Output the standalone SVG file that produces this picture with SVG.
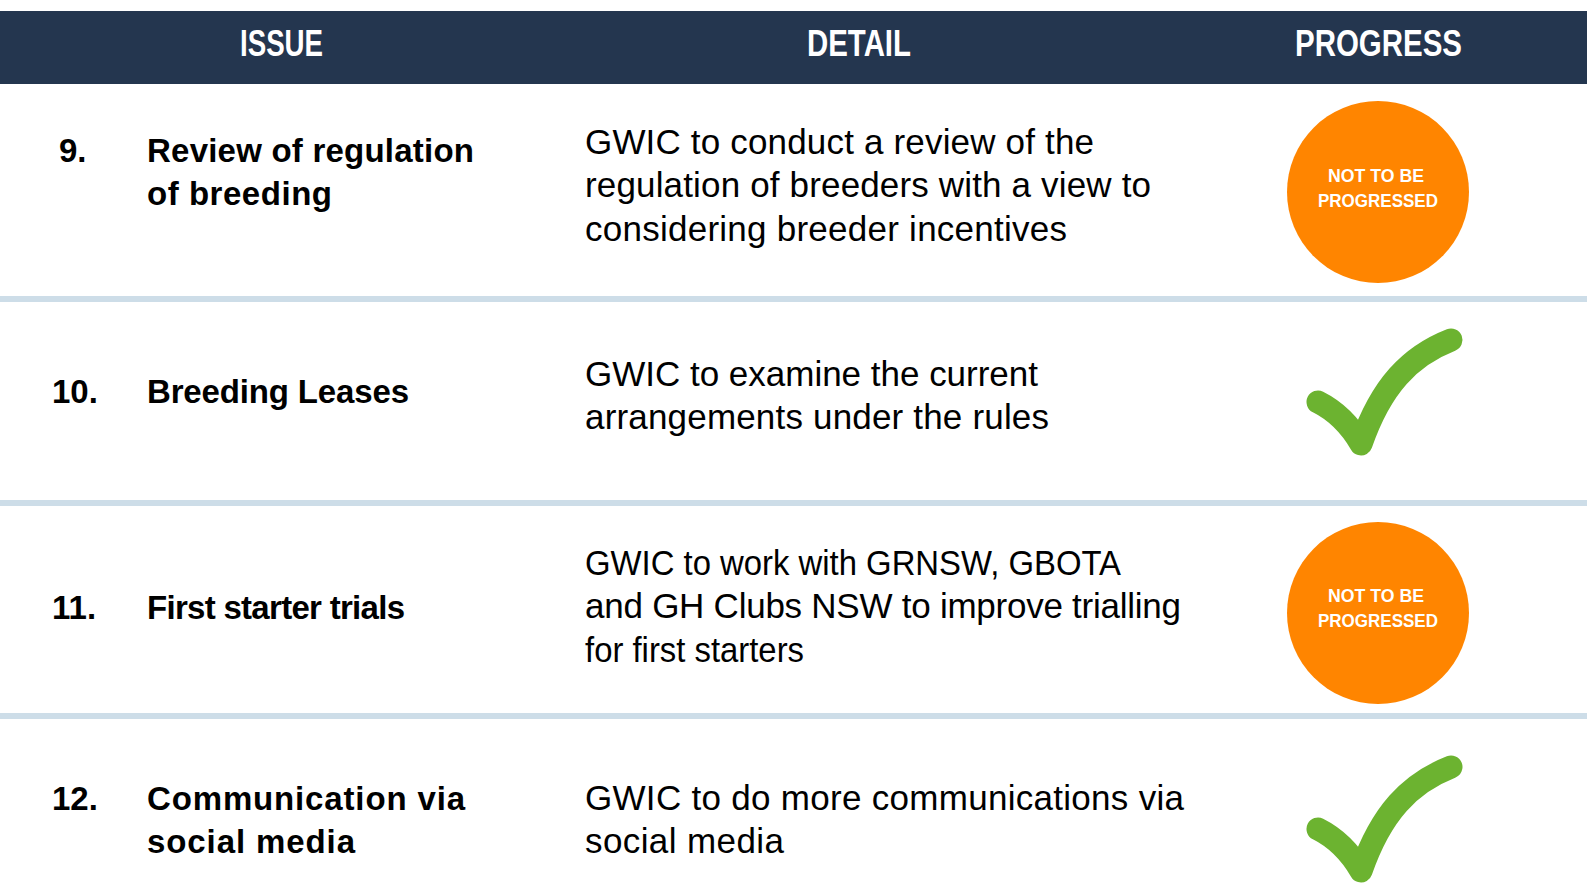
<svg xmlns="http://www.w3.org/2000/svg" width="1587" height="884" viewBox="0 0 1587 884">
<style>
.hdr{font-family:"Liberation Sans",Arial,sans-serif;font-weight:700;font-size:36px;fill:#ffffff}
.num{font-family:"Liberation Sans",Arial,sans-serif;font-weight:700;font-size:33px;fill:#000}
.iss{font-family:"Liberation Sans",Arial,sans-serif;font-weight:700;font-size:33px;fill:#000}
.det{font-family:"Liberation Sans",Arial,sans-serif;font-weight:400;font-size:35px;fill:#000}
.circ{fill:#ff8500}
.ctxt{font-family:"Liberation Sans",Arial,sans-serif;font-weight:700;font-size:19px;fill:#ffffff}
.sep{fill:#cddde8}
.tick{fill:none;stroke:#6cb330;stroke-width:23;stroke-linecap:round;stroke-linejoin:round}
</style>
<rect width="1587" height="884" fill="#ffffff"/>
<g id="header">
<rect x="0" y="11" width="1587" height="73" fill="#24364f"/>
<text class="hdr" x="240" y="56" textLength="83" lengthAdjust="spacingAndGlyphs">ISSUE</text>
<text class="hdr" x="807" y="56" textLength="104" lengthAdjust="spacingAndGlyphs">DETAIL</text>
<text class="hdr" x="1295" y="56" textLength="167" lengthAdjust="spacingAndGlyphs">PROGRESS</text>
</g>
<g id="separators">
<rect class="sep" x="0" y="296" width="1587" height="6"/>
<rect class="sep" x="0" y="500" width="1587" height="6"/>
<rect class="sep" x="0" y="713" width="1587" height="6"/>
</g>
<g id="row9">
<text class="num" x="59" y="162">9.</text>
<text class="iss" x="147" y="162" textLength="327">Review of regulation</text>
<text class="iss" x="147" y="205" textLength="185">of breeding</text>
<text class="det" x="585" y="154" textLength="509">GWIC to conduct a review of the</text>
<text class="det" x="585" y="197" textLength="566">regulation of breeders with a view to</text>
<text class="det" x="585" y="241" textLength="482">considering breeder incentives</text>
<circle class="circ" cx="1378" cy="192" r="91"/>
<text class="ctxt" x="1328" y="182" textLength="96" lengthAdjust="spacingAndGlyphs">NOT TO BE</text>
<text class="ctxt" x="1318" y="207" textLength="120" lengthAdjust="spacingAndGlyphs">PROGRESSED</text>
</g>
<g id="row10">
<text class="num" x="52" y="403">10.</text>
<text class="iss" x="147" y="403" textLength="262">Breeding Leases</text>
<text class="det" x="585" y="386" textLength="453">GWIC to examine the current</text>
<text class="det" x="585" y="429" textLength="464">arrangements under the rules</text>
<path class="tick" d="M1318,402 C1336,411 1350,425 1361,444 C1381,386 1410,356 1451,340"/>
</g>
<g id="row11">
<text class="num" x="52" y="619">11.</text>
<text class="iss" x="147" y="619" textLength="258">First starter trials</text>
<text class="det" x="585" y="575" textLength="536" lengthAdjust="spacingAndGlyphs">GWIC to work with GRNSW, GBOTA</text>
<text class="det" x="585" y="618" textLength="596">and GH Clubs NSW to improve trialling</text>
<text class="det" x="585" y="662" textLength="219" lengthAdjust="spacingAndGlyphs">for first starters</text>
<circle class="circ" cx="1378" cy="613" r="91"/>
<text class="ctxt" x="1328" y="602" textLength="96" lengthAdjust="spacingAndGlyphs">NOT TO BE</text>
<text class="ctxt" x="1318" y="627" textLength="120" lengthAdjust="spacingAndGlyphs">PROGRESSED</text>
</g>
<g id="row12">
<text class="num" x="52" y="810">12.</text>
<text class="iss" x="147" y="810" textLength="318">Communication via</text>
<text class="iss" x="147" y="853" textLength="208">social media</text>
<text class="det" x="585" y="810" textLength="599">GWIC to do more communications via</text>
<text class="det" x="585" y="853" textLength="199">social media</text>
<path class="tick" d="M1318,829 C1336,838 1350,852 1361,871 C1381,813 1410,783 1451,767"/>
</g>
</svg>
